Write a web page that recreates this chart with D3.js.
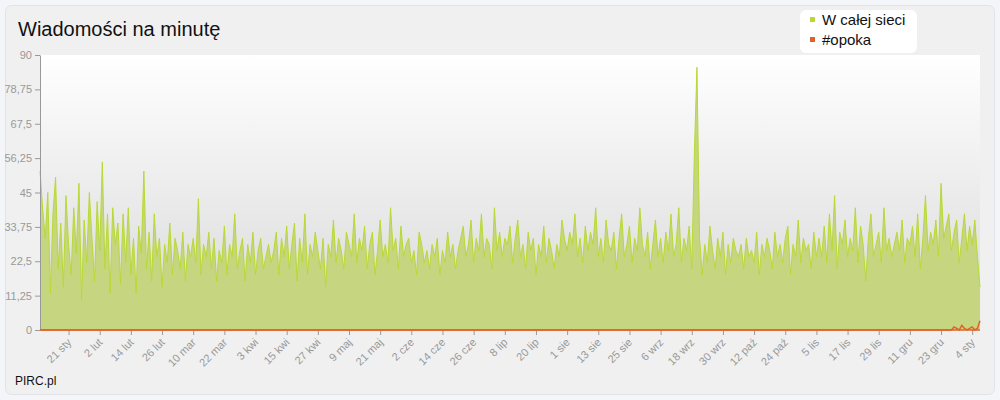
<!DOCTYPE html>
<html><head><meta charset="utf-8">
<script src="https://cdn.jsdelivr.net/npm/d3@7"></script>
<style>body{margin:0;background:#f4f5f8;font-family:"Liberation Sans",Arial,sans-serif}</style>
</head><body><svg id="c" width="1000" height="400"></svg>
<script>
const startDate = "2013-01-10";
const network = [
52,40,30,45,12,38,50,20,35,14,44,28,18,40,25,48,10,36,22,45,30,16,42,26,55,20,38,12,40,28,
35,15,38,22,40,18,30,12,34,25,52,20,32,16,38,24,30,14,28,22,35,18,30,26,20,32,16,28,24,30,
22,43,18,28,24,32,20,30,16,26,22,34,18,28,24,38,20,26,30,16,28,22,32,18,26,30,20,24,28,22,
26,32,18,30,24,34,20,28,35,16,30,22,38,18,28,24,32,26,20,30,14,28,24,36,22,30,26,20,32,28,
24,38,22,30,26,34,20,28,32,18,26,36,24,28,22,40,26,30,20,34,24,28,30,22,26,18,32,28,22,26,
20,28,24,30,18,26,22,32,24,28,20,26,30,34,24,28,36,22,30,26,38,24,30,28,20,40,26,32,24,30,
28,34,22,30,36,24,28,20,32,26,30,18,28,24,34,22,30,26,20,28,24,36,30,26,32,28,38,24,30,22,
34,26,32,28,40,24,30,22,36,28,26,32,20,30,38,24,28,34,22,30,26,40,28,24,32,20,28,36,24,30,
22,32,26,38,24,28,40,22,30,26,34,20,58,86,30,18,28,22,34,26,20,30,24,32,18,28,22,30,26,24,
28,20,30,24,26,22,32,18,28,24,30,26,20,32,24,28,22,30,34,18,28,24,36,22,30,26,28,20,32,24,
30,24,34,22,38,26,44,20,32,28,36,24,30,26,40,22,34,28,16,30,38,24,28,32,22,40,26,30,24,28,
32,26,36,22,30,28,34,24,38,20,30,44,26,32,28,36,24,48,30,34,38,26,32,36,22,30,38,26,34,28,36,24,14];
const opokaTail = [0,1,0.5,0,1.5,0.5,0,0.5,1,0,0.5,3];
const yTicks = [0,11.25,22.5,33.75,45,56.25,67.5,78.75,90];
const monthNames = ["sty","lut","mar","kwi","maj","cze","lip","sie","wrz","paź","lis","gru"];
const seriesNames = ["W całej sieci","#opoka"];
const colors = ["#b8d934","#e0622a"];

const parse = d3.timeParse("%Y-%m-%d");
const s0 = parse(startDate);
const data = network.map((v,i)=>({d:d3.timeDay.offset(s0,i),v}));
const op = network.map((v,i)=>{const k=i-(network.length-opokaTail.length);return {d:data[i].d,v:k>=0?opokaTail[k]:0};});

const svg = d3.select("#c");
const L=40,R=980,T=55,B=330;
svg.append("rect").attr("x",5.5).attr("y",5.5).attr("width",989).attr("height",389).attr("rx",6).attr("fill","#f0f0f0").attr("stroke","#e2e3e8");
const defs=svg.append("defs");
const g1=defs.append("linearGradient").attr("id","bg").attr("x1",0).attr("y1",0).attr("x2",0).attr("y2",1);
g1.append("stop").attr("offset","0").attr("stop-color","#ffffff");
g1.append("stop").attr("offset","1").attr("stop-color","#d8d8d8");
svg.append("rect").attr("x",L).attr("y",T).attr("width",R-L).attr("height",B-T).attr("fill","url(#bg)");

const x=d3.scaleTime().domain([s0,data[data.length-1].d]).range([L,R]);
const y=d3.scaleLinear().domain([0,90]).range([B,T]);

svg.append("path").datum(data).attr("fill","#c6d680").attr("d",d3.area().x(d=>x(d.d)).y0(B).y1(d=>y(d.v)));
svg.append("path").datum(data).attr("fill","none").attr("stroke",colors[0]).attr("stroke-width",1).attr("d",d3.line().x(d=>x(d.d)).y(d=>y(d.v)));
svg.append("path").datum(op).attr("fill","none").attr("stroke",colors[1]).attr("stroke-width",1.5).attr("d",d3.line().x(d=>x(d.d)).y(d=>y(d.v)));

const fmt=d=>d.getDate()+" "+monthNames[d.getMonth()];
const t0=parse("2013-01-21");
const xt=d3.range(0,30).map(i=>d3.timeDay.offset(t0,i*12)).filter(d=>d<=x.domain()[1]);
const xa=svg.append("g").attr("transform",`translate(0,${B})`).call(d3.axisBottom(x).tickValues(xt).tickFormat(fmt).tickSize(5).tickSizeOuter(0));
xa.select(".domain").remove();
xa.selectAll("line").attr("stroke","#999");
xa.selectAll("text").attr("fill","#999").style("font-size","11px").style("font-family","Liberation Sans, Arial").attr("text-anchor","end").attr("y",0).attr("dy",0).attr("transform","translate(3,13) rotate(-45)");
const ya=svg.append("g").attr("transform",`translate(${L},0)`).call(d3.axisLeft(y).tickValues(yTicks).tickFormat(d=>String(d).replace(".",",")).tickSize(5).tickSizeOuter(0));
ya.select(".domain").attr("stroke","#999");
ya.selectAll("line").attr("stroke","#999");
ya.selectAll("text").attr("fill","#999").style("font-size","11px").style("font-family","Liberation Sans, Arial");
svg.append("line").attr("x1",L).attr("x2",R).attr("y1",B).attr("y2",B).attr("stroke",colors[1]).attr("stroke-width",1.5);

svg.append("text").attr("x",18).attr("y",36).attr("font-size",20).attr("fill","#111").text("Wiadomości na minutę");
svg.append("text").attr("x",15).attr("y",385).attr("font-size",12).attr("fill","#111").text("PIRC.pl");
const lg=svg.append("g");
lg.append("rect").attr("x",800).attr("y",10).attr("width",117).attr("height",43).attr("rx",6).attr("fill","#fff");
seriesNames.forEach((n,i)=>{
 lg.append("rect").attr("x",810).attr("y",17+i*20).attr("width",5).attr("height",5).attr("fill",colors[i]);
 lg.append("text").attr("x",822).attr("y",25+i*20).attr("font-size",15).attr("fill","#111").text(n);
});
</script></body></html>
